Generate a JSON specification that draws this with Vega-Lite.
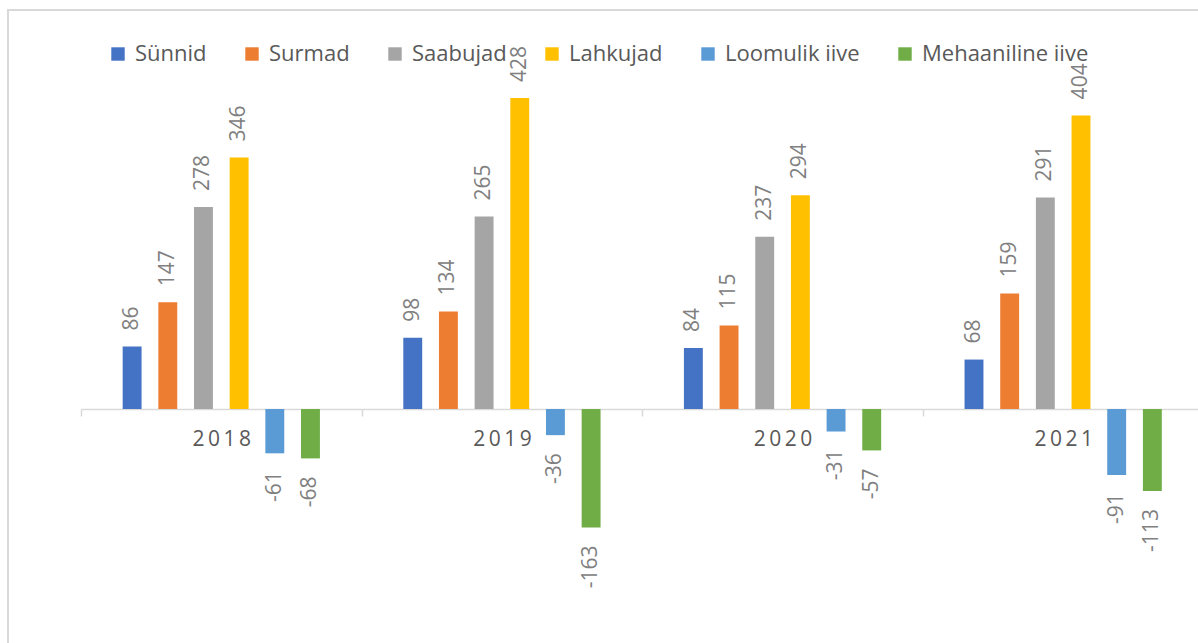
{
  "$schema": "https://vega.github.io/schema/vega-lite/v6.json",
  "width": 1190,
  "height": 633,
  "autosize": {"type": "none"},
  "padding": {"left": 8, "top": 10, "right": 0, "bottom": 0},
  "background": "white",
  "config": {
    "font": "Open Sans",
    "view": {"stroke": "#d9d9d9", "strokeWidth": 2, "strokeDash": [1190, 1823, 633]}
  },
  "data": {
    "values": [
      {"year": "2018", "series": "Sünnid", "value": 86},
      {"year": "2018", "series": "Surmad", "value": 147},
      {"year": "2018", "series": "Saabujad", "value": 278},
      {"year": "2018", "series": "Lahkujad", "value": 346},
      {"year": "2018", "series": "Loomulik iive", "value": -61},
      {"year": "2018", "series": "Mehaaniline iive", "value": -68},
      {"year": "2019", "series": "Sünnid", "value": 98},
      {"year": "2019", "series": "Surmad", "value": 134},
      {"year": "2019", "series": "Saabujad", "value": 265},
      {"year": "2019", "series": "Lahkujad", "value": 428},
      {"year": "2019", "series": "Loomulik iive", "value": -36},
      {"year": "2019", "series": "Mehaaniline iive", "value": -163},
      {"year": "2020", "series": "Sünnid", "value": 84},
      {"year": "2020", "series": "Surmad", "value": 115},
      {"year": "2020", "series": "Saabujad", "value": 237},
      {"year": "2020", "series": "Lahkujad", "value": 294},
      {"year": "2020", "series": "Loomulik iive", "value": -31},
      {"year": "2020", "series": "Mehaaniline iive", "value": -57},
      {"year": "2021", "series": "Sünnid", "value": 68},
      {"year": "2021", "series": "Surmad", "value": 159},
      {"year": "2021", "series": "Saabujad", "value": 291},
      {"year": "2021", "series": "Lahkujad", "value": 404},
      {"year": "2021", "series": "Loomulik iive", "value": -91},
      {"year": "2021", "series": "Mehaaniline iive", "value": -113}
    ]
  },
  "encoding": {
    "x": {
      "field": "year",
      "type": "nominal",
      "scale": {"range": [73, 1195.5], "paddingInner": 0, "paddingOuter": 0},
      "axis": {
        "title": null,
        "orient": "bottom",
        "offset": -234,
        "labelAngle": 0,
        "labelExpr": "join(split(datum.label, ''), '\u2009')",
        "labelFont": "Open Sans",
        "labelFontSize": 21,
        "labelColor": "#595959",
        "labelPadding": 12,
        "domainColor": "#d9d9d9",
        "domainWidth": 1.5,
        "tickColor": "#d9d9d9",
        "tickWidth": 1.5,
        "tickSize": 7,
        "tickBand": "extent",
        "grid": false
      }
    },
    "xOffset": {
      "field": "series",
      "type": "nominal",
      "sort": ["Sünnid", "Surmad", "Saabujad", "Lahkujad", "Loomulik iive", "Mehaaniline iive"],
      "scale": {"range": [6, 274.6], "paddingInner": 0.47, "paddingOuter": 1}
    },
    "y": {
      "field": "value",
      "type": "quantitative",
      "scale": {"domain": [-322, 549], "nice": false, "zero": false},
      "axis": null
    }
  },
  "layer": [
    {
      "mark": {"type": "bar"},
      "encoding": {
        "color": {
          "field": "series",
          "type": "nominal",
          "scale": {
            "domain": ["Sünnid", "Surmad", "Saabujad", "Lahkujad", "Loomulik iive", "Mehaaniline iive"],
            "range": ["#4472C4", "#ED7D31", "#A5A5A5", "#FFC000", "#5B9BD5", "#70AD47"]
          },
          "legend": {
            "title": null,
            "orient": "none",
            "direction": "horizontal",
            "legendX": 99,
            "legendY": 33,
            "symbolType": "square",
            "symbolSize": 180,
            "symbolStrokeWidth": 0,
            "labelFont": "Open Sans",
            "labelFontSize": 22,
            "labelColor": "#595959",
            "labelOffset": 6,
            "columnPadding": 34,
            "labelLimit": 400
          }
        }
      }
    },
    {
      "transform": [{"filter": "datum.value >= 0"}],
      "mark": {"type": "text", "angle": 270, "align": "left", "baseline": "middle", "dx": 16, "fontSize": 21, "font": "Open Sans", "color": "#808080"},
      "encoding": {"text": {"field": "value", "type": "nominal"}}
    },
    {
      "transform": [{"filter": "datum.value < 0"}],
      "mark": {"type": "text", "angle": 270, "align": "right", "baseline": "middle", "dx": -18, "fontSize": 21, "font": "Open Sans", "color": "#808080"},
      "encoding": {"text": {"field": "value", "type": "nominal"}}
    }
  ]
}
